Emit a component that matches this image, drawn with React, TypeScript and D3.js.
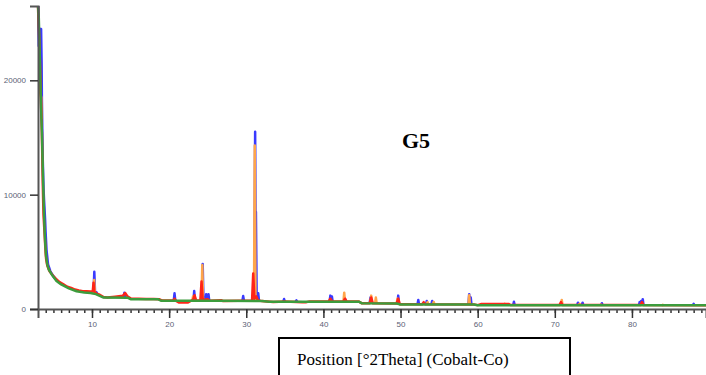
import React, { useEffect, useRef } from 'react';
import * as d3 from 'd3';

// background (green) curve, 2Theta vs counts
const bgPos = [3.0, 3.1, 3.2, 3.3, 3.4, 3.5, 3.58, 3.66, 3.75, 3.85, 3.95, 4.05, 4.2, 4.4, 4.8, 5.4, 6.0, 7.0, 8.0, 9.0, 9.8, 10.5, 11.0, 11.5, 14.6, 15.0, 18.6, 19.0, 26.0, 32.0, 33.0, 44.6, 45.0, 49.5, 50.0, 59.5, 60.0, 89.6];
const bgCounts = [26500, 25500, 23000, 20000, 17500, 15500, 13500, 11200, 9000, 7000, 5600, 4600, 3900, 3450, 3000, 2450, 2150, 1800, 1550, 1450, 1400, 1300, 1150, 1000, 990, 860, 850, 720, 720, 700, 640, 640, 500, 480, 400, 390, 330, 320];

// measured scan (red)
const scanPos = [3.0, 3.05, 3.2, 3.35, 3.5, 3.62, 3.68, 3.72, 3.85, 3.98, 4.05, 4.2, 4.5, 4.9, 5.3, 5.8, 6.3, 6.8, 7.3, 7.8, 8.3, 8.8, 9.3, 9.8, 10.1, 10.2, 10.3, 10.6, 11.0, 11.5, 12.0, 13.0, 14.0, 14.3, 14.6, 15.1, 16.0, 17.0, 18.0, 18.7, 19.1, 20.5, 20.7, 20.9, 21.3, 22.4, 22.8, 23.1, 23.3, 23.5, 24.05, 24.2, 24.35, 25.0, 25.3, 26.8, 27.0, 29.0, 30.75, 30.9, 31.05, 31.3, 31.5, 32.0, 33.5, 35.0, 37.3, 37.8, 38.2, 40.7, 40.9, 41.1, 42.6, 42.8, 43.0, 44.6, 45.0, 46.0, 46.2, 46.4, 49.5, 49.7, 49.9, 52.8, 53.0, 53.2, 59.5, 60.0, 60.5, 64.0, 64.3, 70.6, 70.8, 71.0, 81.1, 81.3, 81.5, 89.6];
const scanCounts = [26500, 25500, 23000, 19000, 15500, 11000, 9200, 8200, 6600, 5000, 4400, 3800, 3300, 2950, 2650, 2350, 2150, 1950, 1850, 1700, 1620, 1550, 1560, 1530, 1550, 2300, 1500, 1350, 1250, 1050, 1000, 1080, 1150, 1400, 1100, 900, 900, 870, 880, 860, 740, 740, 900, 700, 560, 560, 700, 800, 1200, 750, 760, 2400, 780, 850, 720, 760, 700, 720, 720, 3100, 900, 1100, 760, 690, 620, 650, 580, 600, 650, 660, 900, 660, 660, 900, 660, 650, 500, 510, 1000, 510, 490, 900, 420, 420, 600, 420, 400, 340, 440, 440, 340, 340, 600, 340, 340, 600, 340, 330];

// low-angle parts of the other overlays
const blueLowPos = [3.05, 3.1, 3.4, 3.47, 3.5, 3.56, 3.6, 3.72, 3.78, 3.92, 3.98, 4.1, 4.3, 4.6, 5.0, 5.5];
const blueLowCounts = [26500, 23000, 24500, 21500, 18500, 15500, 13500, 10500, 9600, 7800, 6800, 5200, 3900, 3300, 2850, 2450];
const orangeLowPos = [3.2, 3.25, 3.42, 3.45, 3.5];
const orangeLowCounts = [22000, 19000, 18500, 16800, 16600];

// reflections
const orangePeakPos = [10.28, 23.1, 24.3, 31.1, 42.7, 46.2, 46.8, 49.6, 53.5, 54.3, 58.9, 63.5, 70.9, 73.2, 76.0, 84.0];
const orangePeakTop = [2530, 1100, 3840, 14300, 1430, 1170, 1000, 900, 600, 620, 1200, 450, 790, 450, 380, 360];
const orangePeakBase = [1350, 720, 720, 700, 640, 500, 500, 480, 400, 400, 390, 330, 330, 330, 330, 320];

const bluePeakPos = [10.1, 10.3, 10.6, 14.2, 20.7, 23.25, 24.35, 24.8, 25.1, 29.6, 31.15, 31.25, 31.55, 34.9, 36.5, 40.9, 41.1, 42.8, 46.1, 49.7, 52.3, 53.4, 54.1, 58.9, 59.1, 64.7, 73.0, 73.6, 76.1, 81.0, 81.2, 81.4, 88.0];
const bluePeakTop = [1500, 3260, 1450, 1430, 1370, 1570, 3930, 1300, 1300, 1130, 15500, 8500, 1370, 870, 750, 1170, 1100, 900, 1000, 1170, 790, 700, 700, 1300, 1000, 640, 550, 550, 500, 600, 700, 850, 450];
const bluePeakBase = [1400, 1350, 1300, 990, 720, 720, 720, 720, 720, 720, 700, 700, 700, 640, 640, 640, 640, 640, 500, 480, 400, 400, 400, 390, 330, 330, 330, 330, 330, 330, 330, 330, 320];

const yTicks = [0, 10000, 20000];
const xMajor = [10, 20, 30, 40, 50, 60, 70, 80];
const xMinor = d3.range(4, 90);

const W = 706, H = 375;
const x = d3.scaleLinear().domain([3, 89.6]).range([38, 706]);
const y = d3.scaleLinear().domain([0, 26500]).range([309, 6]);

const line = d3.line<number[]>().x(d => x(d[0])).y(d => y(d[1]));
const zip = (a: number[], b: number[]) => a.map((v, i) => [v, b[i]]);
const spikes = (pos: number[], top: number[], base: number[]) =>
  pos.map((p, i) => line([[p - 0.1, base[i]], [p, top[i]], [p + 0.1, base[i]]])).join('');

const GREEN = '#3c9c3c', RED = '#ff2418', ORANGE = '#ffa54a', BLUE = '#3a3aff';

export default function App() {
  const xRef = useRef<SVGGElement>(null);
  const xMinorRef = useRef<SVGGElement>(null);
  const yRef = useRef<SVGGElement>(null);

  useEffect(() => {
    const gx = d3.select(xRef.current!);
    gx.call(d3.axisBottom(x).tickValues(xMajor).tickSize(9).tickPadding(3).tickFormat(d3.format('d')) as any);
    const gm = d3.select(xMinorRef.current!);
    gm.call(d3.axisBottom(x).tickValues(xMinor).tickSize(4).tickFormat(() => '') as any);
    gm.select('.domain').remove();
    const gy = d3.select(yRef.current!);
    gy.call(d3.axisLeft(y).tickValues(yTicks).tickSize(8).tickPadding(4).tickFormat(d3.format('d')) as any);
    [gx, gy].forEach(g => {
      g.select('.domain').attr('stroke', '#555').attr('stroke-width', 2);
      g.selectAll('text').attr('fill', '#5b6275').style('font-family', '"Liberation Sans", Arial, sans-serif').style('font-size', '8px');
    });
    [gx, gm, gy].forEach(g => g.selectAll('.tick line').attr('stroke', '#333').attr('stroke-width', 1.5));
  }, []);

  return (
    <svg width={W} height={H} style={{ position: 'absolute', left: 0, top: 0, background: '#fff' }}>
      <g fill="none" strokeLinejoin="round">
        <path d={line(zip(blueLowPos, blueLowCounts)) || ''} stroke={BLUE} strokeWidth={2.5} />
        <path d={spikes(bluePeakPos, bluePeakTop, bluePeakBase)} stroke={BLUE} strokeWidth={2.5} />
        <path d={line(zip(orangeLowPos, orangeLowCounts)) || ''} stroke={ORANGE} strokeWidth={2.5} />
        <path d={spikes(orangePeakPos, orangePeakTop, orangePeakBase)} stroke={ORANGE} strokeWidth={2.5} />
        <path d={line(zip(scanPos, scanCounts)) || ''} stroke={RED} strokeWidth={2.5} />
        <path d={line(zip(bgPos, bgCounts)) || ''} stroke={GREEN} strokeWidth={2.5} />
      </g>
      <g ref={xMinorRef} transform="translate(0,309)" />
      <g ref={xRef} transform="translate(0,309)" />
      <g ref={yRef} transform="translate(38,0)" />
      <text x={402} y={148} fontFamily='"Liberation Serif", "Times New Roman", serif' fontWeight="bold" fontSize={22}>G5</text>
      <rect x={279} y={338} width={291} height={45} fill="#fff" stroke="#000" strokeWidth={2} />
      <text x={297} y={365} fontFamily='"Liberation Serif", "Times New Roman", serif' fontSize={17}>Position [°2Theta] (Cobalt-Co)</text>
    </svg>
  );
}
